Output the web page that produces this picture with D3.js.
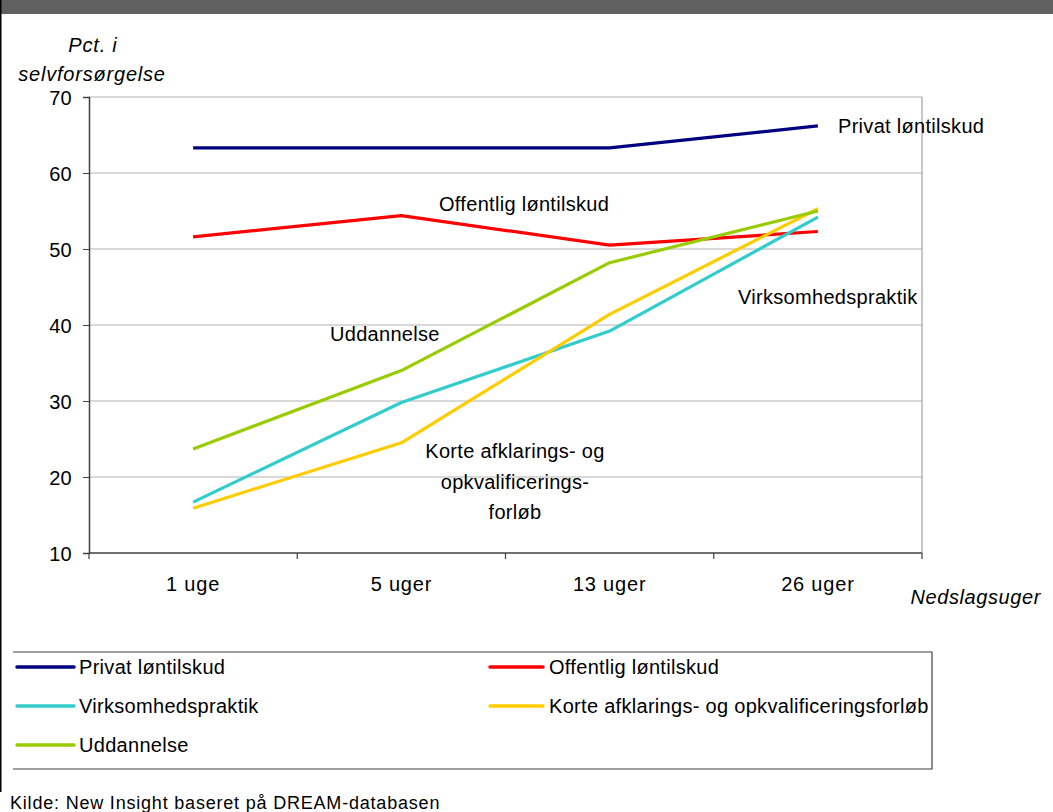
<!DOCTYPE html>
<html>
<head>
<meta charset="utf-8">
<script src="https://cdn.jsdelivr.net/npm/d3@7"></script>
<style>
  body { margin: 0; background: #fff; }
  svg { display: block; font-family: "Liberation Sans", Arial, sans-serif; }
  text { letter-spacing: 0.3px; }
</style>
</head>
<body>
<div id="chart"></div>
<script>
const WIDTH = 1053;
const HEIGHT = 812;
const FONT = 'Liberation Sans, Arial, sans-serif';

const categories = ['1 uge', '5 uger', '13 uger', '26 uger'];
const yTicks = [10, 20, 30, 40, 50, 60, 70];

const privat = [63.3, 63.3, 63.3, 66.2];
const offentlig = [51.6, 54.4, 50.5, 52.3];
const virksomhed = [16.7, 29.8, 39.2, 54.2];
const korte = [15.9, 24.5, 41.4, 55.3];
const uddannelse = [23.7, 34.0, 48.2, 55.0];

const seriesNames = ['Privat løntilskud', 'Offentlig løntilskud', 'Virksomhedspraktik',
	'Korte afklarings- og opkvalificeringsforløb', 'Uddannelse'];
const seriesColors = ['#000080', '#ff0000', '#33cccc', '#ffcc00', '#99cc00'];
const seriesValues = [privat, offentlig, virksomhed, korte, uddannelse];

// labels placed inside the plot, next to their lines
const inlineLabels = [
	{ lines: ['Privat løntilskud'], x: 838, y: 126, anchor: 'start' },
	{ lines: ['Offentlig løntilskud'], x: 439, y: 204, anchor: 'start' },
	{ lines: ['Virksomhedspraktik'], x: 738, y: 297, anchor: 'start' },
	{ lines: ['Uddannelse'], x: 330, y: 334, anchor: 'start' },
	{ lines: ['Korte afklarings- og', 'opkvalificerings-', 'forløb'], x: 515, y: 451, anchor: 'middle' }
];

const plot = { left: 89, right: 922, top: 97, bottom: 553 };

const svg = d3.select('#chart').append('svg')
	.attr('width', WIDTH)
	.attr('height', HEIGHT);

// frame: dark bar on top, black line on the left
svg.append('rect').attr('x', 0).attr('y', 0).attr('width', WIDTH).attr('height', 14).attr('fill', '#606060');
svg.append('line').attr('x1', 0.5).attr('x2', 0.5).attr('y1', 0).attr('y2', 792)
	.attr('stroke', '#000').attr('stroke-width', 2);

const x = d3.scaleBand().domain(categories).range([plot.left, plot.right]);
const y = d3.scaleLinear().domain([10, 70]).range([plot.bottom, plot.top]);

// gridlines
svg.append('g').selectAll('line')
	.data(yTicks.filter(d => d > 10))
	.enter().append('line')
		.attr('x1', plot.left).attr('x2', plot.right)
		.attr('y1', d => y(d)).attr('y2', d => y(d))
		.attr('stroke', '#b4b4b4').attr('stroke-width', 1.2);
svg.append('line')
	.attr('x1', plot.right).attr('x2', plot.right)
	.attr('y1', plot.top).attr('y2', plot.bottom)
	.attr('stroke', '#a0a0a0').attr('stroke-width', 1.2);

// y axis
const yAxis = d3.axisLeft(y).tickValues(yTicks).tickSize(6).tickPadding(11);
const gy = svg.append('g').attr('transform', 'translate(' + plot.left + ',0)').call(yAxis);
gy.select('.domain').attr('stroke', '#404040').attr('stroke-width', 1.5);
gy.selectAll('.tick line').attr('stroke', '#404040');
gy.selectAll('.tick text').attr('font-size', 20).attr('fill', '#000').attr('font-family', FONT)
	.attr('dy', '0.35em');

// x axis: ticks between categories
const xAxis = d3.axisBottom(x).tickSize(0).tickPadding(24);
const gx = svg.append('g').attr('transform', 'translate(0,' + plot.bottom + ')').call(xAxis);
gx.select('.domain').remove();
gx.selectAll('.tick text').attr('font-size', 20).attr('fill', '#000').attr('font-family', FONT)
	.style('letter-spacing', '0.8px');
svg.append('line').attr('x1', plot.left).attr('x2', plot.right)
	.attr('y1', plot.bottom).attr('y2', plot.bottom)
	.attr('stroke', '#404040').attr('stroke-width', 1.5);
const bounds = categories.map(c => x(c)).concat([x(categories[categories.length - 1]) + x.bandwidth()]);
svg.append('g').selectAll('line')
	.data(bounds)
	.enter().append('line')
		.attr('x1', d => d).attr('x2', d => d)
		.attr('y1', plot.bottom).attr('y2', plot.bottom + 6)
		.attr('stroke', '#404040').attr('stroke-width', 1.2);

// axis titles
svg.append('text').attr('x', 93).attr('y', 52).attr('text-anchor', 'middle')
	.attr('font-size', 20).attr('font-style', 'italic').style('letter-spacing', '0.8px').text('Pct. i');
svg.append('text').attr('x', 92).attr('y', 81).attr('text-anchor', 'middle')
	.attr('font-size', 20).attr('font-style', 'italic').style('letter-spacing', '0.8px').text('selvforsørgelse');
svg.append('text').attr('x', 1041).attr('y', 604).attr('text-anchor', 'end')
	.attr('font-size', 20).attr('font-style', 'italic').style('letter-spacing', '0.6px').text('Nedslagsuger');

// lines
const line = d3.line()
	.x((d, i) => x(categories[i]) + x.bandwidth() / 2)
	.y(d => y(d));
svg.append('g').selectAll('path')
	.data(seriesValues)
	.enter().append('path')
		.attr('d', d => line(d))
		.attr('fill', 'none')
		.attr('stroke', (d, i) => seriesColors[i])
		.attr('stroke-width', 3.2)
		.attr('stroke-linejoin', 'round');

// inline labels
inlineLabels.forEach(l => {
	const t = svg.append('text')
		.attr('text-anchor', l.anchor)
		.attr('font-size', 20);
	l.lines.forEach((s, i) => {
		t.append('tspan').attr('x', l.x).attr('y', l.y + 7 + i * 30.5).text(s);
	});
});

// legend
const legend = { left: 13, right: 932, top: 652, bottom: 769 };
svg.append('path')
	.attr('d', 'M' + legend.left + ',' + legend.top + 'H' + legend.right + 'V' + legend.bottom + 'H' + legend.left)
	.attr('fill', 'none').attr('stroke', '#404040').attr('stroke-width', 1.2);
const legendPos = [
	{ x: 17, y: 667 }, { x: 490, y: 667 },
	{ x: 17, y: 706 }, { x: 490, y: 706 },
	{ x: 17, y: 745 }
];
const items = svg.append('g').selectAll('g')
	.data(seriesNames)
	.enter().append('g')
		.attr('transform', (d, i) => 'translate(' + legendPos[i].x + ',' + legendPos[i].y + ')');
items.append('line')
	.attr('x1', 0).attr('x2', (d, i) => i % 2 === 0 ? 57 : 53)
	.attr('y1', 0).attr('y2', 0)
	.attr('stroke', (d, i) => seriesColors[i])
	.attr('stroke-width', 3.5).attr('stroke-linecap', 'round');
items.append('text')
	.attr('x', (d, i) => i % 2 === 0 ? 62 : 59)
	.attr('y', 7)
	.attr('font-size', 20)
	.text(d => d);

// source
svg.append('text').attr('x', 10).attr('y', 809).attr('font-size', 18).style('letter-spacing', '0.8px')
	.text('Kilde: New Insight baseret på DREAM-databasen');
</script>
</body>
</html>
